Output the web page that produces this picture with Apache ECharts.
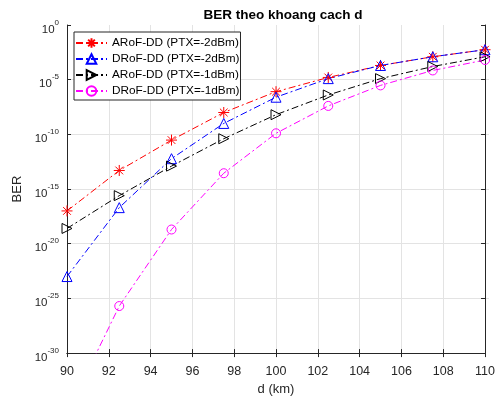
<!DOCTYPE html>
<html lang="en">
<head>
    <meta charset="UTF-8">
    <script src="https://cdn.jsdelivr.net/npm/echarts@6/dist/echarts.min.js"></script>
    <title>BER theo khoang cach d</title>
</head>
<body style="margin:0;background:#fff;">
    <div id="main" style="width: 498px;height:401px;"></div>
    <script type="text/javascript">
        // distances (km)
        const distances = [90, 92.5, 95, 97.5, 100, 102.5, 105, 107.5, 110];
        // BER values
        const arofM2 = [1e-17, 5e-14, 3e-11, 1e-8, 8e-7, 1.6e-5, 2e-4, 1.25e-3, 5.5e-3];
        const drofM2 = [1e-23, 2e-17, 6e-13, 1e-9, 2.5e-7, 1.25e-5, 2e-4, 1.25e-3, 5.5e-3];
        const arofM1 = [2.5e-19, 2.5e-16, 1.25e-13, 4e-11, 6.3e-9, 4e-7, 1.25e-5, 1.6e-4, 1.25e-3];
        const drofM1 = [3e-36, 2e-26, 2e-19, 2.8e-14, 1.25e-10, 4e-8, 3e-6, 7e-5, 6.3e-4];
        const names = ['ARoF-DD (PTX=-2dBm)', 'DRoF-DD (PTX=-2dBm)', 'ARoF-DD (PTX=-1dBm)', 'DRoF-DD (PTX=-1dBm)'];
        // y tick values
        const yTicks = [1e-30, 1e-25, 1e-20, 1e-15, 1e-10, 1e-5, 1];

        const font = 'Liberation Sans, Arial, sans-serif';
        const dark = '#262626';
        const gridColor = '#e3e3e3';
        const dashDot = [7, 3, 2, 3];
        const plotWidth = 422;

        function pairs(vals) {
            return distances.map((d, i) => [d, vals[i]]);
        }

        function makeSeries(name, vals, color, symbol, size, fill) {
            return {
                name: name,
                type: 'line',
                data: pairs(vals),
                symbol: symbol,
                symbolSize: size,
                clip: true,
                lineStyle: { color: color, width: 1, type: dashDot },
                itemStyle: { color: fill, borderColor: color, borderWidth: 1 },
                emphasis: { disabled: true }
            };
        }

        const asterisk = 'path://M0,-5L0,5M-5,0L5,0M-3.5,-3.5L3.5,3.5M-3.5,3.5L3.5,-3.5';
        const rightTri = 'path://M0,0L10,5L0,10Z';

        // plain box axes (top / right) with inward ticks
        const boxAxis = { show: true, lineStyle: { color: dark } };
        const inTick = { inside: true, length: 4, lineStyle: { color: dark } };

        let myChart = echarts.init(document.getElementById('main'));
        let options = {
            animation: false,
            textStyle: { fontFamily: font },
            title: {
                text: 'BER theo khoang cach d',
                left: 278, top: 3, textAlign: 'center',
                textStyle: { fontSize: 13.5, fontWeight: 'bold', color: '#000', fontFamily: font }
            },
            legend: {
                orient: 'vertical',
                left: 74, top: 32,
                itemWidth: 31, itemHeight: 12, itemGap: 4,
                padding: [5, 1, 3, 1],
                backgroundColor: '#fff',
                borderColor: dark, borderWidth: 1,
                borderRadius: 0,
                textStyle: { fontSize: 11.8, color: '#000', fontFamily: font },
                data: names
            },
            grid: { left: 67, right: 9, top: 25, bottom: 44 },
            xAxis: [{
                type: 'value', min: 90, max: 110, interval: 2,
                name: 'd (km)', nameLocation: 'middle', nameGap: 26,
                nameTextStyle: { fontSize: 13, color: dark },
                axisLine: { lineStyle: { color: dark } },
                axisTick: inTick,
                axisLabel: { fontSize: 12.5, color: dark, margin: 12 },
                splitLine: { show: true, lineStyle: { color: gridColor } }
            }, {
                type: 'value', min: 90, max: 110, interval: 2, position: 'top',
                axisLine: boxAxis, axisTick: inTick,
                axisLabel: { show: false }, splitLine: { show: false }
            }],
            yAxis: [{
                type: 'log', logBase: 10, min: 1e-30, max: 1,
                name: 'BER', nameLocation: 'middle', nameGap: 37,
                nameTextStyle: { fontSize: 13, color: dark },
                axisLine: { lineStyle: { color: dark } },
                axisTick: Object.assign({ customValues: yTicks }, inTick),
                axisLabel: {
                    margin: 8,
                    customValues: yTicks,
                    formatter: (v) => '{b|10}{s|' + Math.round(Math.log10(v)) + '}',
                    rich: {
                        b: { fontSize: 11.5, color: dark, lineHeight: 21, verticalAlign: 'bottom' },
                        s: { fontSize: 8, color: dark, verticalAlign: 'middle', padding: [0, 0, 5, 0] }
                    }
                },
                splitLine: { show: false }
            }, {
                type: 'log', logBase: 10, min: 1e-30, max: 1, position: 'right',
                axisLine: boxAxis,
                axisTick: Object.assign({ customValues: yTicks }, inTick),
                axisLabel: { show: false }, splitLine: { show: false }
            }, {
                // horizontal grid lines at the labelled decades
                type: 'log', logBase: 10, min: 1e-30, max: 1, position: 'left', z: -1,
                axisLine: { show: false },
                axisTick: { inside: true, length: plotWidth, customValues: yTicks.slice(1, -1), lineStyle: { color: gridColor } },
                axisLabel: { show: false }, splitLine: { show: false }
            }],
            series: [
                makeSeries(names[0], arofM2, '#ff0000', asterisk, 11, '#ff0000'),
                makeSeries(names[1], drofM2, '#0000ff', 'triangle', 10, 'transparent'),
                makeSeries(names[2], arofM1, '#000000', rightTri, 10, 'transparent'),
                makeSeries(names[3], drofM1, '#ff00ff', 'circle', 9, 'transparent')
            ]
        };
        myChart.setOption(options);
    </script>
</body>
</html>
